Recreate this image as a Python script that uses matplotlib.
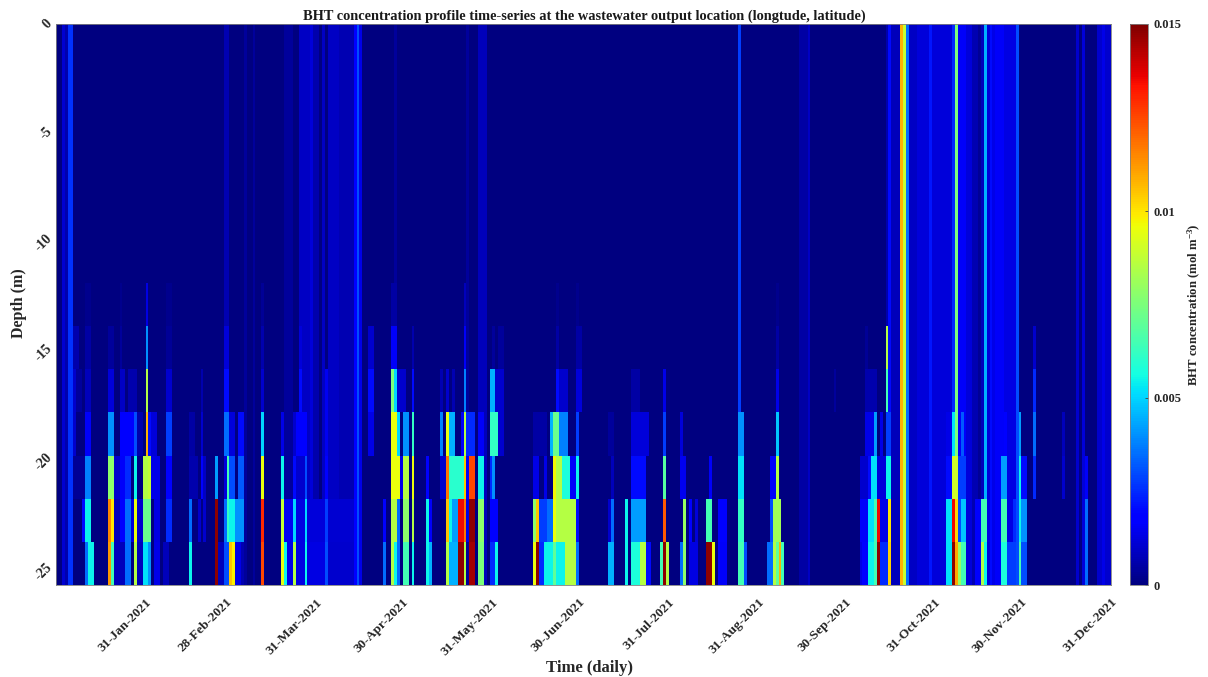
import numpy as np
import matplotlib
matplotlib.use('Agg')
import matplotlib.pyplot as plt

plt.rcParams['font.family'] = ['Liberation Serif', 'DejaVu Serif']
plt.rcParams['font.weight'] = 'bold'
plt.rcParams['mathtext.fontset'] = 'custom'
plt.rcParams['mathtext.rm'] = 'Liberation Serif:bold'
plt.rcParams['mathtext.default'] = 'rm'

TITLE = 'BHT concentration profile time-series at the wastewater output location (longtude, latitude)'
N_DAYS = 365
LAYER_THICKNESS = 1.97  # m
N_LAYERS = 13

TICK_DAYS = [31, 59, 90, 120, 151, 181, 212, 243, 273, 304, 334, 365]
TICK_LABELS = ['31-Jan-2021', '28-Feb-2021', '31-Mar-2021', '30-Apr-2021', '31-May-2021', '30-Jun-2021',
               '31-Jul-2021', '31-Aug-2021', '30-Sep-2021', '31-Oct-2021', '30-Nov-2021', '31-Dec-2021']
DEPTH_TICKS = [0, -5, -10, -15, -20, -25]
CBAR_TICKS = [0, 0.005, 0.01, 0.015]
CBAR_LABELS = ['0', '0.005', '0.01', '0.015']

# (first day, last day, concentration)
# stripes going through the whole water column
COLUMN = [(2, 2, .0011), (3, 3, .0006), (4, 5, .0026), (58, 59, .0007), (65, 65, .0004), (68, 68, .0004),
          (79, 81, .0004), (84, 87, .0009), (88, 88, .0012), (89, 90, .0006), (92, 92, .0009), (94, 97, .0009),
          (98, 102, .0007), (103, 103, .0018), (104, 104, .0030), (105, 105, .0014), (117, 117, .0004),
          (142, 142, .0004), (146, 148, .0008), (236, 236, .0028), (257, 259, .0005), (260, 260, .0009),
          (287, 287, .0006), (288, 288, .0020), (289, 291, .0008), (292, 292, .0108), (293, 293, .0088),
          (294, 294, .0035), (295, 297, .0009), (298, 301, .0012), (302, 302, .0022), (303, 309, .0012),
          (310, 310, .0025), (311, 311, .0075), (312, 314, .0016), (315, 316, .0012), (317, 318, .0007),
          (319, 319, .0003), (320, 320, .0008), (321, 321, .0045), (322, 322, .0012), (323, 323, .0020),
          (324, 324, .0014), (325, 327, .0016), (328, 331, .0013), (332, 332, .0030), (353, 353, .0010),
          (355, 355, .0012), (360, 361, .0010), (362, 362, .0014), (363, 364, .0010)]

# extra values in the lower layers, bottom one first
LAYER_1 = [(2, 2, .0006), (3, 4, .0003), (10, 10, .0035), (11, 12, .0055), (18, 18, .0112), (19, 19, .0065),
           (20, 23, .0008), (24, 25, .0035), (27, 27, .0085), (28, 29, .0008), (30, 31, .0052), (32, 32, .0040),
           (34, 35, .0014), (37, 38, .0008), (46, 46, .0055), (55, 55, .0148), (56, 57, .0008), (58, 59, .0030),
           (60, 60, .0105), (61, 61, .0098), (62, 63, .0014), (64, 64, .0007), (71, 71, .0125), (78, 78, .0095),
           (79, 79, .0055), (80, 81, .0014), (82, 82, .0085), (83, 85, .0013), (86, 86, .0055), (87, 92, .0013),
           (93, 93, .0030), (94, 105, .0010), (113, 113, .0035), (116, 116, .0085), (117, 117, .0055),
           (118, 118, .0035), (120, 121, .0065), (123, 123, .0055), (128, 128, .0055), (129, 129, .0045),
           (135, 135, .0085), (136, 138, .0045), (139, 140, .0148), (141, 141, .0085), (143, 144, .0145),
           (146, 147, .0075), (150, 151, .0025), (152, 152, .0055), (165, 165, .0095), (166, 166, .0148),
           (167, 168, .0025), (169, 171, .0055), (172, 172, .0070), (173, 175, .0055), (176, 179, .0085),
           (180, 180, .0035), (191, 192, .0045), (197, 197, .0055), (199, 201, .0058), (202, 203, .0085),
           (204, 205, .0020), (209, 209, .0065), (210, 210, .0148), (211, 211, .0085), (216, 216, .0035),
           (217, 217, .0078), (219, 221, .0013), (225, 226, .0148), (227, 227, .0095), (229, 231, .0016),
           (236, 237, .0065), (238, 238, .0030), (246, 247, .0035), (248, 248, .0085), (249, 249, .0070),
           (250, 250, .0108), (251, 251, .0065), (278, 278, .0013), (279, 280, .0018), (281, 282, .0055),
           (283, 283, .0065), (284, 284, .0148), (285, 287, .0025), (288, 288, .0103), (308, 309, .0052),
           (310, 310, .0148), (311, 311, .0110), (312, 312, .0080), (313, 314, .0065), (318, 319, .0018),
           (320, 320, .0085), (321, 321, .0055), (327, 328, .0058), (329, 331, .0028), (333, 333, .0065),
           (334, 335, .0030), (356, 356, .0035)]
LAYER_2 = [(2, 2, .0005), (9, 9, .0020), (10, 11, .0055), (18, 18, .0115), (19, 19, .0100), (20, 21, .0008),
           (22, 23, .0018), (24, 25, .0035), (26, 26, .0012), (27, 27, .0095), (28, 29, .0010), (30, 32, .0072),
           (34, 35, .0013), (38, 39, .0025), (46, 46, .0035), (49, 49, .0010), (51, 51, .0010), (55, 55, .0148),
           (58, 58, .0035), (59, 59, .0062), (60, 61, .0055), (62, 64, .0040), (71, 71, .0130), (78, 78, .0088),
           (79, 81, .0015), (82, 82, .0050), (83, 85, .0013), (86, 86, .0050), (87, 92, .0012), (93, 93, .0028),
           (94, 105, .0011), (113, 113, .0018), (116, 117, .0085), (118, 118, .0035), (120, 121, .0078),
           (123, 123, .0085), (128, 128, .0055), (129, 129, .0016), (135, 135, .0105), (136, 136, .0055),
           (137, 138, .0042), (139, 140, .0135), (141, 141, .0118), (142, 142, .0014), (143, 144, .0148),
           (146, 147, .0078), (150, 152, .0018), (165, 165, .0078), (166, 166, .0105), (167, 169, .0028),
           (170, 171, .0035), (172, 172, .0095), (173, 179, .0085), (180, 180, .0020), (191, 191, .0010),
           (192, 192, .0035), (197, 197, .0055), (199, 203, .0042), (210, 210, .0122), (217, 217, .0080),
           (219, 219, .0018), (221, 221, .0012), (225, 226, .0065), (229, 231, .0018), (236, 237, .0062),
           (247, 247, .0030), (248, 250, .0082), (278, 280, .0016), (281, 282, .0052), (283, 283, .0065),
           (284, 284, .0135), (285, 287, .0014), (288, 288, .0100), (308, 309, .0052), (310, 310, .0135),
           (311, 311, .0102), (312, 312, .0030), (313, 314, .0048), (318, 319, .0018), (320, 321, .0065),
           (322, 326, .0014), (327, 328, .0065), (331, 331, .0025), (333, 333, .0055), (334, 335, .0040),
           (356, 356, .0035)]
LAYER_3 = [(2, 2, .0005), (3, 9, .0003), (10, 11, .0038), (18, 19, .0078), (20, 21, .0010), (22, 23, .0016),
           (24, 25, .0025), (27, 27, .0055), (30, 31, .0085), (32, 32, .0088), (33, 35, .0014), (38, 39, .0018),
           (46, 48, .0006), (50, 50, .0018), (51, 51, .0009), (55, 55, .0042), (58, 58, .0012), (59, 59, .0065),
           (60, 61, .0030), (63, 64, .0032), (71, 71, .0095), (78, 78, .0055), (82, 82, .0020), (83, 85, .0010),
           (86, 86, .0030), (93, 93, .0018), (116, 118, .0095), (119, 119, .0014), (120, 121, .0085),
           (123, 123, .0095), (128, 128, .0018), (133, 134, .0010), (135, 135, .0118), (136, 140, .0060),
           (141, 141, .0105), (142, 142, .0016), (143, 144, .0125), (146, 147, .0055), (150, 150, .0025),
           (151, 151, .0040), (165, 166, .0014), (169, 169, .0014), (172, 172, .0097), (173, 174, .0085),
           (175, 177, .0058), (178, 179, .0016), (180, 180, .0055), (192, 192, .0008), (199, 203, .0020),
           (210, 210, .0068), (216, 217, .0015), (226, 226, .0016), (236, 237, .0052), (247, 248, .0016),
           (249, 249, .0085), (278, 280, .0010), (281, 281, .0020), (282, 283, .0052), (284, 286, .0012),
           (287, 288, .0055), (308, 309, .0020), (310, 311, .0090), (312, 314, .0028), (321, 321, .0038),
           (327, 328, .0042), (331, 331, .0012), (333, 333, .0055), (334, 335, .0020), (338, 338, .0025),
           (348, 348, .0010), (356, 356, .0016)]
LAYER_4 = [(2, 2, .0005), (3, 5, .0004), (6, 6, .0010), (10, 11, .0016), (18, 19, .0040), (22, 26, .0018),
           (27, 27, .0030), (28, 29, .0006), (31, 31, .0108), (32, 32, .0020), (33, 34, .0012), (38, 39, .0028),
           (46, 47, .0005), (50, 50, .0010), (58, 59, .0035), (60, 61, .0012), (63, 64, .0020), (71, 71, .0050),
           (78, 78, .0014), (82, 82, .0010), (83, 86, .0018), (93, 93, .0015), (108, 109, .0014),
           (116, 117, .0095), (118, 118, .0050), (120, 121, .0040), (123, 123, .0062), (133, 133, .0038),
           (135, 135, .0095), (136, 137, .0045), (140, 140, .0016), (141, 141, .0085), (142, 144, .0025),
           (146, 147, .0016), (150, 152, .0062), (153, 154, .0010), (165, 169, .0005), (171, 171, .0045),
           (172, 173, .0072), (174, 176, .0038), (180, 180, .0028), (191, 192, .0004), (199, 204, .0012),
           (210, 210, .0028), (216, 216, .0012), (236, 237, .0040), (249, 249, .0048), (280, 282, .0014),
           (283, 283, .0042), (285, 285, .0014), (287, 288, .0028), (308, 309, .0014), (310, 311, .0052),
           (313, 313, .0032), (321, 321, .0040), (328, 328, .0018), (333, 333, .0042), (338, 338, .0035),
           (348, 348, .0008)]
LAYER_5 = [(2, 2, .0005), (4, 5, .0008), (6, 6, .0010), (7, 8, .0004), (10, 11, .0008), (18, 19, .0012),
           (22, 23, .0009), (25, 27, .0006), (31, 31, .0085), (38, 39, .0010), (50, 50, .0006), (58, 59, .0020),
           (71, 71, .0010), (84, 84, .0020), (93, 93, .0015), (108, 109, .0020), (116, 116, .0075),
           (117, 117, .0050), (118, 120, .0010), (123, 123, .0020), (133, 133, .0007), (135, 135, .0010),
           (137, 137, .0007), (141, 141, .0038), (146, 147, .0007), (150, 151, .0045), (152, 154, .0010),
           (173, 173, .0020), (174, 176, .0010), (180, 181, .0012), (199, 201, .0005), (210, 210, .0014),
           (236, 236, .0024), (249, 249, .0014), (269, 269, .0004), (280, 283, .0006), (287, 287, .0065),
           (288, 288, .0016), (310, 311, .0020), (313, 313, .0010), (321, 321, .0038), (338, 338, .0025)]
LAYER_6 = [(6, 7, .0006), (10, 11, .0005), (18, 19, .0004), (22, 22, .0004), (31, 31, .0040), (38, 39, .0003),
           (58, 59, .0012), (71, 71, .0006), (84, 84, .0012), (108, 109, .0010), (116, 117, .0016), (123, 123, .0006),
           (141, 141, .0016), (146, 147, .0008), (151, 151, .0004), (153, 154, .0004), (173, 173, .0005),
           (180, 181, .0005), (236, 236, .0022), (249, 249, .0005), (280, 280, .0003), (287, 287, .0085),
           (310, 310, .0020), (338, 338, .0010)]
LAYER_7 = [(10, 11, .0002), (22, 22, .0002), (31, 31, .0013), (38, 39, .0002), (58, 59, .0006), (71, 71, .0003),
           (116, 117, .0005), (141, 141, .0008), (173, 173, .0002), (180, 180, .0002), (249, 249, .0002)]
LAYERS = [LAYER_1, LAYER_2, LAYER_3, LAYER_4, LAYER_5, LAYER_6, LAYER_7]

# top row first, as depth goes down in the picture
conc = np.zeros((N_LAYERS, N_DAYS))
for first, last, val in COLUMN:
    conc[:, first:last + 1] = val
for i, layer in enumerate(LAYERS):
    row = N_LAYERS - 1 - i
    for first, last, val in layer:
        conc[row, first:last + 1] = np.maximum(conc[row, first:last + 1], val)

x_edges = np.arange(N_DAYS + 1)
y_edges = -LAYER_THICKNESS * np.arange(N_LAYERS + 1)

fig = plt.figure(figsize=(12.08, 6.77), dpi=100)
ax = fig.add_axes([56 / 1208, 1 - 585 / 677, 1055 / 1208, 561 / 677])
mesh = ax.pcolormesh(x_edges, y_edges, conc, cmap='jet', vmin=0, vmax=0.015, shading='flat')
ax.set_xlim(0, N_DAYS)
ax.set_ylim(y_edges[-1], 0)

ax.set_xticks(TICK_DAYS)
ax.set_xticklabels(TICK_LABELS, rotation=45, ha='right', rotation_mode='anchor', fontsize=9.6, color='#262626')
ax.set_yticks(DEPTH_TICKS)
ax.set_yticklabels([str(d) for d in DEPTH_TICKS], rotation=45, va='center', fontsize=10, color='#262626')
ax.tick_params(axis='x', length=0, pad=8)
ax.tick_params(axis='y', length=0, pad=1)
for s in ax.spines.values():
    s.set_color('#808080')
    s.set_linewidth(0.6)

fig.text(584 / 1208, 1 - 16 / 677, TITLE, ha='center', va='center', fontsize=10.4, color='#1a1a1a')
fig.text(590 / 1208, 1 - 668 / 677, 'Time (daily)', ha='center', va='center', fontsize=12, color='#262626')
fig.text(19 / 1208, 1 - 303 / 677, 'Depth (m)', ha='center', va='center', rotation=90, fontsize=11.5, color='#262626')

cax = fig.add_axes([1130 / 1208, 1 - 585 / 677, 18 / 1208, 561 / 677])
cbar = fig.colorbar(mesh, cax=cax)
cbar.set_ticks(CBAR_TICKS)
cbar.set_ticklabels(CBAR_LABELS, fontsize=9, color='#262626')
cax.tick_params(length=2, width=0.6, direction='in', color='#404040', pad=4)
cbar.outline.set_edgecolor('#808080')
cbar.outline.set_linewidth(0.6)
fig.text(1194 / 1208, 1 - 305 / 677, 'BHT concentration (mol m$^{-3}$)', ha='center', va='center',
         rotation=90, fontsize=9.2, color='#262626')

fig.savefig('out.png', dpi=100)
